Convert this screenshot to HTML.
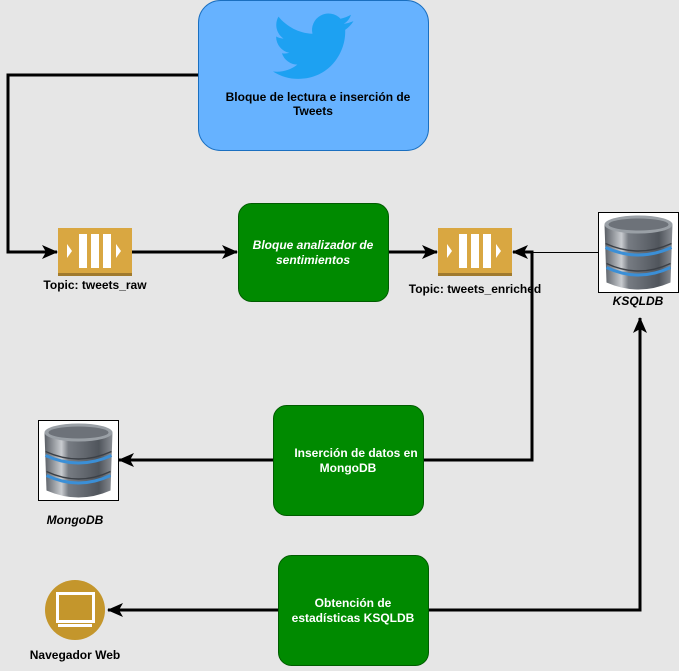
<!DOCTYPE html>
<html><head><meta charset="utf-8"><style>
html,body{margin:0;padding:0;background:#e6e6e6;}
svg{display:block;font-family:"Liberation Sans",Arial,sans-serif;}
</style></head><body>
<svg width="679" height="671" viewBox="0 0 679 671" xmlns="http://www.w3.org/2000/svg">
<defs>
<marker id="ah2" markerWidth="16" markerHeight="14" refX="15" refY="7" orient="auto" markerUnits="userSpaceOnUse" viewBox="0 0 16 14">
<path d="M0,0 L16,7 L0,14 L4,7 Z" fill="#000"/>
</marker>
<linearGradient id="cyl" x1="0" x2="1">
<stop offset="0" stop-color="#5a5f66"/><stop offset="0.25" stop-color="#c9ccd0"/><stop offset="0.35" stop-color="#777c83"/><stop offset="0.8" stop-color="#50555c"/><stop offset="1" stop-color="#8a8e94"/>
</linearGradient>
<g id="db">
<rect x="0" y="0" width="80" height="80" fill="#fff" stroke="#000" stroke-width="1"/>
<path d="M6,12 L8,70 Q40,84 72,70 L74,12 Z" fill="url(#cyl)"/>
<ellipse cx="40" cy="12" rx="34" ry="9" fill="#9aa0a6"/>
<ellipse cx="40" cy="12" rx="30" ry="6" fill="#6d7279"/>
<path d="M7,35 Q40,50 73,35" stroke="#3b8fd6" stroke-width="3" fill="none"/>
<path d="M8,55 Q40,70 72,55" stroke="#3b8fd6" stroke-width="3" fill="none"/>
<path d="M7,31 Q40,46 73,31" stroke="#3c4046" stroke-width="1.5" fill="none"/>
<path d="M8,51 Q40,66 72,51" stroke="#3c4046" stroke-width="1.5" fill="none"/>
</g>
<g id="topic">
<rect x="0" y="0" width="74" height="48" fill="#d9a741"/>
<rect x="0" y="45" width="74" height="3" fill="#a07a2e"/>
<rect x="21" y="6" width="8" height="34" fill="#fff"/>
<rect x="33" y="6" width="8" height="34" fill="#fff"/>
<rect x="45" y="6" width="8" height="34" fill="#fff"/>
<path d="M9,16 L14,23 L9,30 Z" fill="#fff"/>
<path d="M58,16 L63,23 L58,30 Z" fill="#fff"/>
</g>
</defs>

<rect x="198.5" y="0.5" width="230" height="150" rx="22" fill="#66b2ff" stroke="#1a6fc0"/>
<path transform="translate(273,6) scale(3.35)" fill="#1da1f2" d="M23.953 4.57a10 10 0 01-2.825.775 4.958 4.958 0 002.163-2.723c-.951.555-2.005.959-3.127 1.184a4.92 4.92 0 00-8.384 4.482C7.69 8.095 4.067 6.13 1.64 3.162a4.822 4.822 0 00-.666 2.475c0 1.710.87 3.213 2.188 4.096a4.904 4.904 0 01-2.228-.616v.06a4.923 4.923 0 003.946 4.827 4.996 4.996 0 01-2.212.085 4.936 4.936 0 004.604 3.417 9.867 9.867 0 01-6.102 2.105c-.39 0-.779-.023-1.17-.067a13.995 13.995 0 007.557 2.209c9.053 0 13.998-7.496 13.998-13.985 0-.21 0-.42-.015-.63A9.935 9.935 0 0024 4.59z"/>
<text x="318" y="101" font-size="12" font-weight="bold" text-anchor="middle" fill="#000">Bloque de lectura e inserción de</text>
<text x="313" y="115" font-size="12" font-weight="bold" text-anchor="middle" fill="#000">Tweets</text>

<polyline points="198,75 8,75 8,252 57,252" fill="none" stroke="#000" stroke-width="3" marker-end="url(#ah2)"/>
<line x1="132" y1="252" x2="237" y2="252" stroke="#000" stroke-width="3" marker-end="url(#ah2)"/>
<line x1="388" y1="252" x2="437" y2="252" stroke="#000" stroke-width="3" marker-end="url(#ah2)"/>
<line x1="598" y1="252.5" x2="513" y2="252.5" stroke="#000" stroke-width="1"/>
<polyline points="424,460 532,460 532,252 513,252" fill="none" stroke="#000" stroke-width="3" marker-end="url(#ah2)"/>
<line x1="273" y1="460" x2="119" y2="460" stroke="#000" stroke-width="3" marker-end="url(#ah2)"/>
<polyline points="428,610 640,610 640,318" fill="none" stroke="#000" stroke-width="3" marker-end="url(#ah2)"/>
<line x1="278" y1="610" x2="108" y2="610" stroke="#000" stroke-width="3" marker-end="url(#ah2)"/>

<use href="#topic" x="58" y="228"/>
<text x="95" y="289" font-size="12" font-weight="bold" text-anchor="middle" fill="#000">Topic: tweets_raw</text>
<use href="#topic" x="438" y="228"/>
<text x="475" y="293" font-size="12" font-weight="bold" text-anchor="middle" fill="#000">Topic: tweets_enriched</text>

<rect x="238.5" y="203.5" width="150" height="98" rx="13" fill="#008a00" stroke="#005c00"/>
<text x="313" y="249" font-size="12" font-weight="bold" font-style="italic" text-anchor="middle" fill="#fff">Bloque analizador de</text>
<text x="313" y="264" font-size="12" font-weight="bold" font-style="italic" text-anchor="middle" fill="#fff">sentimientos</text>

<use href="#db" x="598.5" y="212.5"/>
<text x="638" y="305" font-size="12" font-weight="bold" font-style="italic" text-anchor="middle" fill="#000">KSQLDB</text>

<use href="#db" x="38.5" y="420.5"/>
<text x="75" y="524" font-size="12" font-weight="bold" font-style="italic" text-anchor="middle" fill="#000">MongoDB</text>

<rect x="273.5" y="405.5" width="150" height="110" rx="13" fill="#008a00" stroke="#005c00"/>
<text x="356" y="457" font-size="12" font-weight="bold" text-anchor="middle" fill="#fff">Inserción de datos en</text>
<text x="348" y="472" font-size="12" font-weight="bold" text-anchor="middle" fill="#fff">MongoDB</text>

<rect x="278.5" y="555.5" width="150" height="110" rx="13" fill="#008a00" stroke="#005c00"/>
<text x="353" y="607" font-size="12" font-weight="bold" text-anchor="middle" fill="#fff">Obtención de</text>
<text x="353" y="622" font-size="12" font-weight="bold" text-anchor="middle" fill="#fff">estadísticas KSQLDB</text>

<circle cx="75" cy="610" r="30" fill="#c4962c"/>
<rect x="57.5" y="593.5" width="36" height="28" fill="none" stroke="#fff" stroke-width="3"/>
<rect x="58" y="624" width="34" height="3" fill="#fff"/>
<text x="75" y="659" font-size="12" font-weight="bold" text-anchor="middle" fill="#000">Navegador Web</text>
</svg>
</body></html>
